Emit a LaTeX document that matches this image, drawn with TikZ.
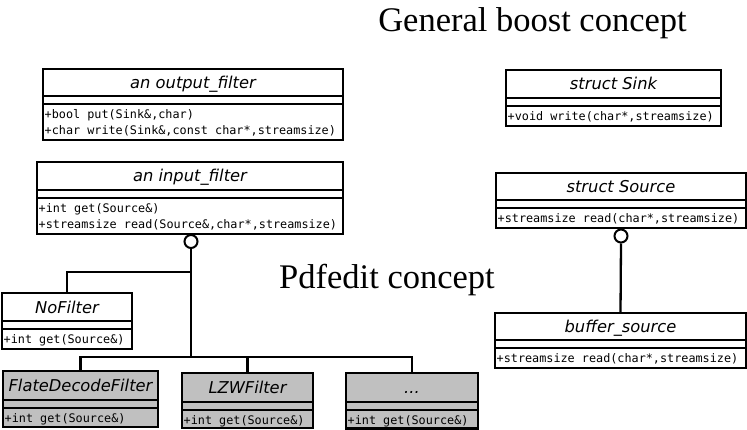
\documentclass[tikz,border=0pt]{standalone}
\usepackage{fontspec}
\setmainfont{Liberation Serif}
\newfontfamily\umltitlefont{DejaVu Sans}
\newfontfamily\umlmonofont{DejaVu Sans Mono}
\definecolor{umlgray}{RGB}{192,192,192}
\tikzset{
  umlframe/.style={draw=black, line width=2.3pt},
  umltitletext/.style={font=\umltitlefont\itshape\fontsize{16.3}{19}\selectfont, inner sep=0pt, anchor=base},
  umlmethod/.style={font=\umlmonofont\fontsize{11.8}{16.5}\selectfont, inner sep=0pt, anchor=base west},
  heading/.style={font=\fontsize{34.5}{40}\selectfont, inner sep=0pt, anchor=base},
  conn/.style={line width=2.3pt},
  lollipop/.style={draw=black, line width=2pt, fill=white, circle, minimum size=13pt, inner sep=0pt},
}
% #1 fill, #2 name, #3 x1, #4 y1, #5 x2, #6 y2, #7 title bottom, #8 title, #9 methods
\newcommand\umlclass[9][white]{%
  \node[umlframe, fill=#1, rectangle, inner sep=0pt, outer sep=0pt, anchor=north west,
        minimum width={#5pt-#3pt}, minimum height={#6pt-#4pt}] (#2) at (#3,#4) {};
  \draw[umlframe] (#3,#7) -- (#5,#7);
  \draw[umlframe] (#3,{#7+8}) -- (#5,{#7+8});
  \node[umltitletext] (#2-title) at ({(#3+#5)/2},{#4+20}) {#8};
  \foreach \m [count=\i] in {#9}
    \node[umlmethod] (#2-m\i) at ({#3+1.5},{#7+8+14.5+(\i-1)*16.5}) {\m};
}
\begin{document}
\begin{tikzpicture}[x=1pt,y=-1pt]
\useasboundingbox (0,0) rectangle (747,430);

\node[heading] (hgen) at (532.5,32) {General boost concept};
\node[heading] (hpdf) at (387,289) {Pdfedit concept};

\umlclass{outf}{43}{69}{343}{140}{96}{an output\_filter}{{+bool put(Sink\&,char)},{+char write(Sink\&,const char*,streamsize)}}
\umlclass{inf}{37}{162}{343}{234}{190}{an input\_filter}{{+int get(Source\&)},{+streamsize read(Source\&,char*,streamsize)}}
\umlclass{sink}{506}{70}{721}{126}{98}{struct Sink}{{+void write(char*,streamsize)}}
\umlclass{src}{496}{173}{746}{228}{200}{struct Source}{{+streamsize read(char*,streamsize)}}
\umlclass{buf}{495}{313}{746}{368}{340}{buffer\_source}{{+streamsize read(char*,streamsize)}}
\umlclass{nof}{2}{293}{132}{349}{321}{NoFilter}{{+int get(Source\&)}}
\umlclass[umlgray]{flate}{3}{371}{158}{427}{400}{FlateDecodeFilter}{{+int get(Source\&)}}
\umlclass[umlgray]{lzw}{182}{373}{313}{428}{402}{LZWFilter}{{+int get(Source\&)}}
\umlclass[umlgray]{dots}{346}{373}{478}{428.5}{402}{...}{{+int get(Source\&)}}

% input_filter realisations
\node[lollipop] (inlp) at (191,241.5) {};
\coordinate (jnof) at (191,272);
\coordinate (jbot) at (191,357);
\draw[conn] (inlp.south) -- (jbot);
\draw[conn] (jnof) -| (nof.north);
\draw[conn] (flate.north) |- (jbot);
\draw[conn] (jbot) -| (dots.north);
\draw[conn] (lzw.north) -- (lzw.north |- jbot);

% source realisation
\node[lollipop] (srclp) at (621,236) {};
\draw[conn] (srclp.south) -- (buf.north);
\end{tikzpicture}
\end{document}
